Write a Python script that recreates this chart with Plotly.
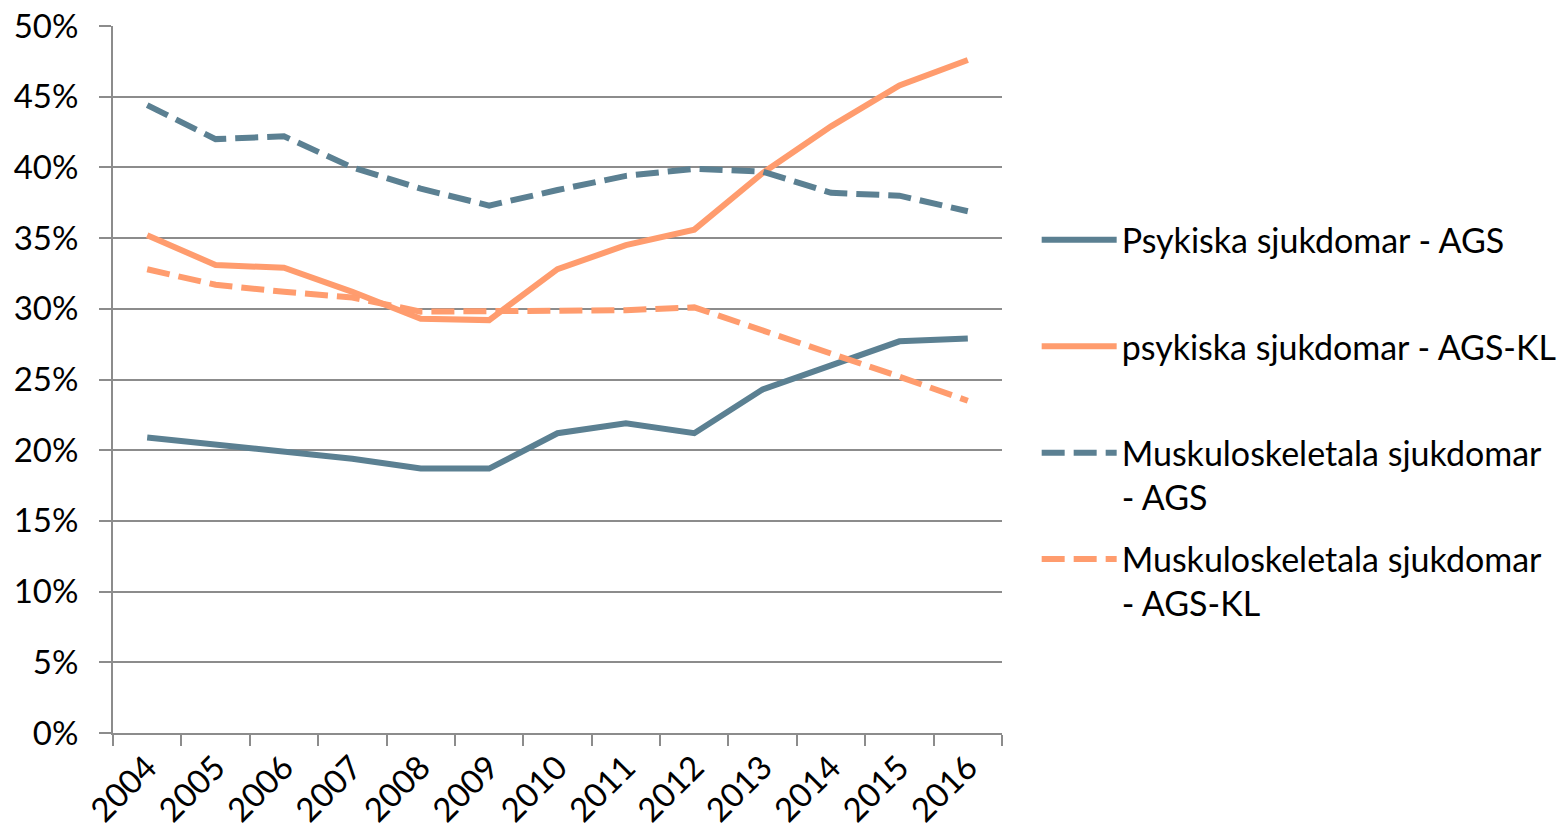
import plotly.graph_objects as go

years = ["2004", "2005", "2006", "2007", "2008", "2009", "2010",
         "2011", "2012", "2013", "2014", "2015", "2016"]
psyk_ags = [20.9, 20.4, 20.0, 19.4, 18.7, 18.7, 21.2, 21.9, 21.2, 24.3, 26.0, 27.7, 27.9]
psyk_agskl = [35.2, 33.1, 32.9, 31.2, 29.3, 29.2, 32.8, 34.5, 35.6, 39.6, 42.9, 45.8, 47.6]
musk_ags = [44.4, 42.0, 42.2, 40.0, 38.5, 37.3, 38.4, 39.4, 39.9, 39.7, 38.2, 38.0, 36.9]
musk_agskl = [32.8, 31.7, 31.2, 30.8, 29.8, 29.8, 29.9, 29.9, 30.1, 28.5, 26.8, 25.2, 23.5]

names = ["Psykiska sjukdomar - AGS<br> ",
         "psykiska sjukdomar - AGS-KL<br> ",
         "Muskuloskeletala sjukdomar<br>- AGS",
         "Muskuloskeletala sjukdomar<br>- AGS-KL"]

DARK = "#5B8092"
ORANGE = "#FF9C6E"
FONT = "Lato, 'Open Sans', sans-serif"

series = [
    (psyk_ags, names[0], DARK, "solid"),
    (psyk_agskl, names[1], ORANGE, "solid"),
    (musk_ags, names[2], DARK, "23px,9px"),
    (musk_agskl, names[3], ORANGE, "23px,9px"),
]

fig = go.Figure()
for i, (vals, name, color, dash) in enumerate(series):
    fig.add_trace(go.Scatter(
        x=years, y=[v / 100 for v in vals], name=name, mode="lines",
        legendgroup=f"g{i}",
        line=dict(color=color, width=6, dash=dash),
    ))

fig.update_layout(
    width=1559, height=833,
    margin=dict(l=113, r=557, t=26, b=100, autoexpand=False),
    paper_bgcolor="white", plot_bgcolor="white",
    font=dict(family=FONT, size=33, color="black"),
    legend=dict(
        x=1.039, y=0.738, xanchor="left", yanchor="top",
        valign="top", itemwidth=75, tracegroupgap=15,
        font=dict(family=FONT, size=34, color="black"),
        bgcolor="rgba(0,0,0,0)",
    ),
    showlegend=True,
)

fig.update_xaxes(
    type="category", range=[-0.5, 12.5], automargin=False,
    tickson="boundaries", ticks="outside", ticklen=11, tickwidth=2,
    tickcolor="#8C8C8C", showline=True, linecolor="#8C8C8C", linewidth=2,
    showgrid=False, tickangle=-45,
    tickfont=dict(family=FONT, size=33, color="black"),
)
fig.update_yaxes(
    range=[0, 0.5], dtick=0.05, tickformat=".0%", automargin=False,
    ticks="outside", ticklen=12, tickwidth=2, tickcolor="#8C8C8C",
    showline=True, linecolor="#8C8C8C", linewidth=2,
    showgrid=True, gridcolor="#8C8C8C", gridwidth=1.5,
    zeroline=False, ticklabelstandoff=14,
    tickfont=dict(family=FONT, size=33, color="black"),
)

fig.write_html("out.html",
               config={"displayModeBar": False},
               post_script="document.body.style.margin='0';document.body.style.overflow='hidden';")
